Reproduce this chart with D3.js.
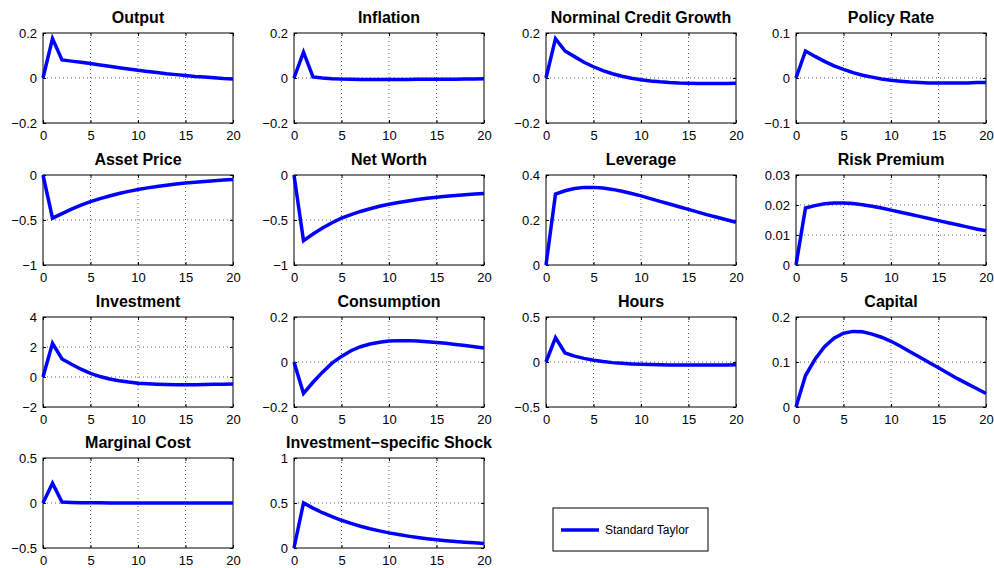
<!DOCTYPE html>
<html>
<head>
<meta charset="utf-8">
<script src="https://cdn.jsdelivr.net/npm/d3@7"></script>
<style>
  body { margin: 0; background: #fff; }
  svg { display: block; font-family: "Liberation Sans", Arial, Helvetica, sans-serif; }
</style>
</head>
<body>
<svg id="chart" width="994" height="568"></svg>
<script>
// Horizon (quarters)
const periods = d3.range(0, 21);
const xTicks = [0, 5, 10, 15, 20];

// Panel titles
const titles = [
  "Output", "Inflation", "Norminal Credit Growth", "Policy Rate",
  "Asset Price", "Net Worth", "Leverage", "Risk Premium",
  "Investment", "Consumption", "Hours", "Capital",
  "Marginal Cost", "Investment\u2212specific Shock"
];

// Y-axis ticks per panel
const yTicks = [
  [-0.2, 0, 0.2], [-0.2, 0, 0.2], [-0.2, 0, 0.2], [-0.1, 0, 0.1],
  [-1, -0.5, 0], [-1, -0.5, 0], [0, 0.2, 0.4], [0, 0.01, 0.02, 0.03],
  [-2, 0, 2, 4], [-0.2, 0, 0.2], [-0.5, 0, 0.5], [0, 0.1, 0.2],
  [-0.5, 0, 0.5], [0, 0.5, 1]
];

// Impulse responses, Standard Taylor rule
const output      = [0, 0.175, 0.08, 0.075, 0.07, 0.064, 0.058, 0.052, 0.046, 0.04, 0.034, 0.029, 0.024, 0.019, 0.015, 0.011, 0.007, 0.004, 0.001, -0.002, -0.004];
const inflation   = [0, 0.115, 0.005, 0.0, -0.003, -0.005, -0.006, -0.007, -0.007, -0.007, -0.007, -0.007, -0.007, -0.006, -0.006, -0.006, -0.005, -0.005, -0.004, -0.004, -0.003];
const creditGrowth= [0, 0.175, 0.12, 0.095, 0.07, 0.05, 0.033, 0.019, 0.008, -0.001, -0.008, -0.013, -0.017, -0.02, -0.022, -0.023, -0.024, -0.024, -0.024, -0.024, -0.023];
const policyRate  = [0, 0.06, 0.048, 0.037, 0.027, 0.019, 0.012, 0.006, 0.002, -0.002, -0.005, -0.007, -0.009, -0.01, -0.011, -0.011, -0.011, -0.011, -0.011, -0.01, -0.01];
const assetPrice  = [0, -0.48, -0.43, -0.38, -0.335, -0.295, -0.262, -0.233, -0.206, -0.182, -0.161, -0.143, -0.127, -0.113, -0.1, -0.089, -0.08, -0.071, -0.063, -0.056, -0.05];
const netWorth    = [0, -0.73, -0.655, -0.59, -0.53, -0.48, -0.44, -0.405, -0.375, -0.348, -0.325, -0.305, -0.288, -0.272, -0.258, -0.246, -0.236, -0.227, -0.219, -0.212, -0.206];
const leverage    = [0, 0.315, 0.33, 0.34, 0.345, 0.345, 0.342, 0.336, 0.328, 0.318, 0.307, 0.295, 0.283, 0.271, 0.259, 0.247, 0.235, 0.223, 0.212, 0.201, 0.19];
const riskPremium = [0, 0.019, 0.0198, 0.0204, 0.0207, 0.0207, 0.0205, 0.0201, 0.0196, 0.019, 0.0183, 0.0176, 0.0169, 0.0162, 0.0155, 0.0148, 0.0141, 0.0134, 0.0127, 0.012, 0.0114];
const investment  = [0, 2.25, 1.2, 0.85, 0.52, 0.24, 0.03, -0.13, -0.25, -0.34, -0.41, -0.45, -0.48, -0.5, -0.51, -0.51, -0.51, -0.5, -0.49, -0.48, -0.47];
const consumption = [0, -0.14, -0.09, -0.045, -0.005, 0.025, 0.05, 0.068, 0.08, 0.088, 0.093, 0.095, 0.095, 0.093, 0.09, 0.087, 0.083, 0.078, 0.073, 0.068, 0.062];
const hours       = [0, 0.27, 0.1, 0.065, 0.04, 0.02, 0.005, -0.007, -0.015, -0.021, -0.026, -0.029, -0.031, -0.032, -0.033, -0.033, -0.033, -0.033, -0.032, -0.032, -0.031];
const capital     = [0, 0.07, 0.106, 0.134, 0.153, 0.164, 0.168, 0.167, 0.162, 0.155, 0.146, 0.135, 0.123, 0.111, 0.099, 0.087, 0.075, 0.063, 0.052, 0.041, 0.03];
const marginalCost= [0, 0.22, 0.01, 0.006, 0.004, 0.003, 0.002, 0.001, 0.0, 0.0, -0.001, -0.001, -0.001, -0.001, -0.001, -0.001, -0.001, -0.001, -0.001, -0.001, -0.001];
const invShock    = [0, 0.5, 0.443, 0.392, 0.348, 0.308, 0.273, 0.242, 0.214, 0.19, 0.168, 0.149, 0.132, 0.117, 0.104, 0.092, 0.081, 0.072, 0.064, 0.057, 0.05];

const series = [output, inflation, creditGrowth, policyRate,
                assetPrice, netWorth, leverage, riskPremium,
                investment, consumption, hours, capital,
                marginalCost, invShock];

const legendLabel = "Standard Taylor";
const lineColor = "#0000ff";

// Grid layout of subplots
const colLeft = [43, 294, 546, 796];
const rowTop = [33, 175, 317, 458];
const pw = 190, ph = 90;

const svg = d3.select("#chart");

const fmt = v => String(+v.toFixed(4)).replace("-", "\u2212");

series.forEach((vals, i) => {
  const r = Math.floor(i / 4), c = i % 4;
  const g = svg.append("g").attr("transform", `translate(${colLeft[c]},${rowTop[r]})`);
  const yt = yTicks[i];
  const x = d3.scaleLinear().domain([0, 20]).range([0, pw]);
  const y = d3.scaleLinear().domain([yt[0], yt[yt.length - 1]]).range([ph, 0]);

  // dotted grid at interior ticks
  g.append("g").selectAll("line").data(xTicks.slice(1, -1)).join("line")
    .attr("x1", d => x(d)).attr("x2", d => x(d)).attr("y1", 0).attr("y2", ph)
    .attr("stroke", "#333").attr("stroke-width", 0.8).attr("stroke-dasharray", "1,3");
  g.append("g").selectAll("line").data(yt.slice(1, -1)).join("line")
    .attr("y1", d => y(d)).attr("y2", d => y(d)).attr("x1", 0).attr("x2", pw)
    .attr("stroke", "#333").attr("stroke-width", 0.8).attr("stroke-dasharray", "1,3");

  // axes: ticks pointing inward on all four sides
  const ax = (gen, tr) => {
    const a = g.append("g").attr("transform", tr).call(gen);
    a.select(".domain").remove();
    a.selectAll("line").attr("stroke", "#000");
    a.selectAll("text").attr("font-size", 13).attr("fill", "#000");
    return a;
  };
  ax(d3.axisBottom(x).tickValues(xTicks).tickSize(-3).tickPadding(5).tickFormat(d => d), `translate(0,${ph})`)
    .selectAll("text").attr("dy", "0.9em");
  ax(d3.axisTop(x).tickValues(xTicks).tickSize(-3).tickFormat(""), "translate(0,0)");
  ax(d3.axisLeft(y).tickValues(yt).tickSize(-3).tickPadding(6).tickFormat(fmt), "translate(0,0)");
  ax(d3.axisRight(y).tickValues(yt).tickSize(-3).tickFormat(""), `translate(${pw},0)`);

  // plot box
  g.append("rect").attr("width", pw).attr("height", ph)
    .attr("fill", "none").attr("stroke", "#000").attr("stroke-width", 1);

  // response line
  const clipId = "clip" + i;
  g.append("clipPath").attr("id", clipId).append("rect")
    .attr("x", -2).attr("y", -2).attr("width", pw + 4).attr("height", ph + 4);
  g.append("path")
    .datum(vals.map((v, k) => [periods[k], v]))
    .attr("clip-path", `url(#${clipId})`)
    .attr("fill", "none").attr("stroke", lineColor).attr("stroke-width", 3.5)
    .attr("stroke-linejoin", "miter")
    .attr("d", d3.line().x(d => x(d[0])).y(d => y(d[1])));

  // title
  g.append("text").attr("x", pw / 2).attr("y", -10)
    .attr("text-anchor", "middle").attr("font-size", 16).attr("font-weight", "bold")
    .text(titles[i]);
});

// legend
const lg = svg.append("g").attr("transform", "translate(553,508)");
lg.append("rect").attr("width", 155).attr("height", 43)
  .attr("fill", "#fff").attr("stroke", "#000").attr("stroke-width", 1);
lg.append("line").attr("x1", 8).attr("x2", 46).attr("y1", 22).attr("y2", 22)
  .attr("stroke", lineColor).attr("stroke-width", 3.5);
lg.append("text").attr("x", 52).attr("y", 26).attr("font-size", 12).text(legendLabel);
</script>
</body>
</html>
